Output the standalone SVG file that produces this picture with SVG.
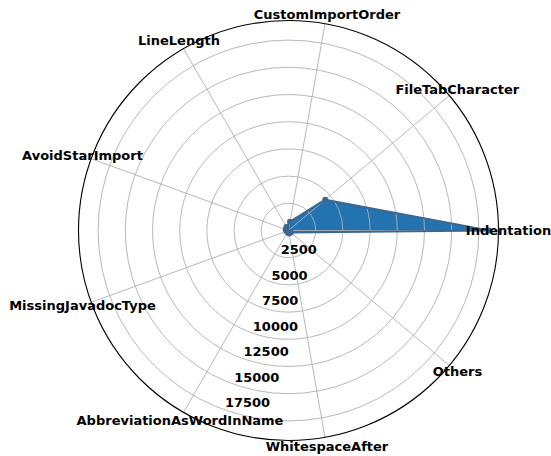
<svg xmlns="http://www.w3.org/2000/svg" width="551" height="456" viewBox="0 0 551 456">
  <style>
    .grid { fill: none; stroke: #b0b0b0; stroke-width: 0.9; }
    .frame { fill: none; stroke: #000000; stroke-width: 1.1; }
    .area { fill: #2273b0; stroke: none; }
    .edge { fill: none; stroke: #3b6792; stroke-width: 2; stroke-linejoin: round; }
    .dot { fill: #3b6792; }
    text { font-family: "DejaVu Sans", "Liberation Sans", sans-serif; font-weight: bold; font-size: 13px; fill: #000000; }
    .cat { text-anchor: middle; }
    .tick { text-anchor: start; }
  </style>
  <rect width="551" height="456" fill="#ffffff"/>

  <!-- filled data area (drawn below the grid) -->
  <g id="area">
    <polygon class="area" points="489,230.5 325.27,199.65 290.06,221.64 286.5,227.04 285.68,229.47 286.62,231.18 287.5,232.23 289.02,233.45 290.8,232.43"/>
  </g>

  <!-- polar grid: rings every 2500 and one spoke per category -->
  <g id="grid">
    <circle class="grid" cx="288.5" cy="230.5" r="27.2"/>
    <circle class="grid" cx="288.5" cy="230.5" r="54.4"/>
    <circle class="grid" cx="288.5" cy="230.5" r="81.6"/>
    <circle class="grid" cx="288.5" cy="230.5" r="108.8"/>
    <circle class="grid" cx="288.5" cy="230.5" r="136"/>
    <circle class="grid" cx="288.5" cy="230.5" r="163.2"/>
    <circle class="grid" cx="288.5" cy="230.5" r="190.4"/>
    <line class="grid" x1="288.5" y1="230.5" x2="498.5" y2="230.5"/>
    <line class="grid" x1="288.5" y1="230.5" x2="449.37" y2="95.51"/>
    <line class="grid" x1="288.5" y1="230.5" x2="324.97" y2="23.69"/>
    <line class="grid" x1="288.5" y1="230.5" x2="183.5" y2="48.63"/>
    <line class="grid" x1="288.5" y1="230.5" x2="91.17" y2="158.68"/>
    <line class="grid" x1="288.5" y1="230.5" x2="91.17" y2="302.32"/>
    <line class="grid" x1="288.5" y1="230.5" x2="183.5" y2="412.37"/>
    <line class="grid" x1="288.5" y1="230.5" x2="324.97" y2="437.31"/>
    <line class="grid" x1="288.5" y1="230.5" x2="449.37" y2="365.49"/>
  </g>

  <!-- data outline with vertex markers -->
  <g id="outline">
    <polygon class="edge" points="489,230.5 325.27,199.65 290.06,221.64 286.5,227.04 285.68,229.47 286.62,231.18 287.5,232.23 289.02,233.45 290.8,232.43"/>
    <circle class="dot" cx="489" cy="230.5" r="3"/>
    <circle class="dot" cx="325.27" cy="199.65" r="3"/>
    <circle class="dot" cx="290.06" cy="221.64" r="3"/>
    <circle class="dot" cx="286.5" cy="227.04" r="3"/>
    <circle class="dot" cx="285.68" cy="229.47" r="3"/>
    <circle class="dot" cx="286.62" cy="231.18" r="3"/>
    <circle class="dot" cx="287.5" cy="232.23" r="3"/>
    <circle class="dot" cx="289.02" cy="233.45" r="3"/>
    <circle class="dot" cx="290.8" cy="232.43" r="3"/>
  </g>

  <!-- outer boundary of the polar axes -->
  <circle id="frame" class="frame" cx="288.5" cy="230.5" r="210"/>

  <!-- radial tick labels -->
  <g id="radial-labels">
    <text class="tick" x="280.7" y="254.3">2500</text>
    <text class="tick" x="271.4" y="279.8">5000</text>
    <text class="tick" x="262.1" y="305.3">7500</text>
    <text class="tick" x="252.8" y="330.8">10000</text>
    <text class="tick" x="243.5" y="356.3">12500</text>
    <text class="tick" x="234.2" y="381.8">15000</text>
    <text class="tick" x="224.9" y="407.3">17500</text>
  </g>

  <!-- category labels around the rim -->
  <g id="category-labels">
    <text id="lbl-indentation" class="cat" x="508.5" y="235">Indentation</text>
    <text id="lbl-filetab" class="cat" x="457.3" y="94">FileTabCharacter</text>
    <text id="lbl-customimport" class="cat" x="327" y="19">CustomImportOrder</text>
    <text id="lbl-linelength" class="cat" x="179" y="44.5">LineLength</text>
    <text id="lbl-avoidstar" class="cat" x="82.5" y="160">AvoidStarImport</text>
    <text id="lbl-missingjavadoc" class="cat" x="82.5" y="310">MissingJavadocType</text>
    <text id="lbl-abbreviation" class="cat" x="180" y="425">AbbreviationAsWordInName</text>
    <text id="lbl-whitespace" class="cat" x="327" y="451">WhitespaceAfter</text>
    <text id="lbl-others" class="cat" x="457.5" y="376">Others</text>
  </g>
</svg>
